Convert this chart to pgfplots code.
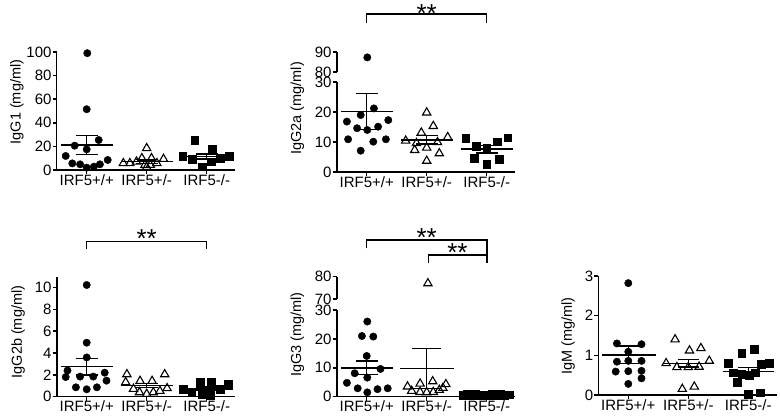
\documentclass[border=0pt]{standalone}
\usepackage{pgfplots}
\pgfplotsset{compat=1.18}
\usepackage{fontspec}
\setmainfont{Liberation Sans}

% one pt = one pixel of the reference
\pgfplotsset{
  ig/.style={
    scale only axis, clip=false,
    width=178.2pt,
    xmin=-0.5, xmax=2.47,
    axis x line*=bottom, axis y line*=left,
    axis line style={line width=1.6pt},
    every tick/.style={black, line width=1.5pt},
    major tick length=4pt,
    tick align=outside,
    xtick={0,1,2},
    xticklabels={IRF5+/+,IRF5+/-,IRF5-/-},
    tick label style={font=\fontsize{15}{18}\selectfont, inner sep=1pt},
    xticklabel style={yshift=1pt},
    ylabel style={font=\fontsize{14.5}{16}\selectfont, anchor=center},
    /pgf/number format/assume math mode=true,
    anchor=south west,
  },
  upper/.style={ig, axis x line=none, xtick=\empty},
  wt/.style={only marks, mark=*, mark size=3.7pt, black},
  het/.style={only marks, mark=triangle, mark size=4.8pt, black, mark options={line width=1.1pt}},
  ko/.style={only marks, mark=square*, mark size=3.9pt, black},
  mean/.style={black, line width=1.5pt, unbounded coords=jump},
}

\begin{document}
\begin{tikzpicture}
\useasboundingbox (0pt,0pt) rectangle (780pt,417pt);

% ---------------- IgG1
\begin{axis}[ig, at={(56.7pt,247pt)}, height=118pt, ymin=0, ymax=100, ytick={0,20,...,100},
  ylabel={IgG1 (mg/ml)}, ylabel style={at={(axis description cs:-0.223,0.576)}}]
\addplot[wt] coordinates {(0.01,99) (0,51.5) (0.2,25.4) (-0.2,20.6) (0,17.5) (-0.35,11.9)
  (-0.24,5.6) (-0.11,4.8) (0,2) (0.12,2.8) (0.22,4.8) (0.35,8.5)};
\addplot[het] coordinates {(1.0,18.4) (0.92,9.9) (1.08,9.9) (1.28,9.3) (0.61,5.7) (0.72,5.7)
  (0.83,7) (0.97,4.2) (1.06,4.2) (1.17,5.7) (1.0,2.5)};
\addplot[ko] coordinates {(1.8,25) (2.09,18) (1.6,11.5) (1.76,9) (2.22,10) (2.37,12)
  (2.08,7) (1.93,2.8)};
% mean
\addplot[mean] coordinates {(-0.43,21.2) (0.43,21.2) (nan,nan) (0.57,7.1) (1.43,7.1) (nan,nan) (1.57,11.3) (2.43,11.3)};
% SEM
\addplot[mean] coordinates {(0,13.2) (0,29.2) (nan,nan) (-0.18,29.2) (0.18,29.2) (nan,nan) (-0.18,13.2) (0.18,13.2)};
\addplot[mean] coordinates {(1,5.3) (1,8.9) (nan,nan) (0.82,8.9) (1.18,8.9) (nan,nan) (0.82,5.3) (1.18,5.3)};
\addplot[mean] coordinates {(2,9.2) (2,13.4) (nan,nan) (1.82,13.4) (2.18,13.4) (nan,nan) (1.82,9.2) (2.18,9.2)};
\end{axis}

% ---------------- IgG2a (broken axis)
\begin{axis}[ig, at={(336.7pt,245pt)}, height=90pt, ymin=0, ymax=30, ytick={0,10,20,30},
  ylabel={IgG2a (mg/ml)}, ylabel style={at={(axis description cs:-0.22,0.706)}}]
\addplot[wt] coordinates {(0.12,21.2) (-0.1,19) (-0.33,16.8) (0.36,17.3) (-0.16,14.6)
  (0.01,14) (0.19,15.1) (-0.31,10.9) (0.11,10.1) (0.32,10.9) (-0.1,7.1)};
\addplot[het] coordinates {(1,19.8) (1.11,15.3) (0.91,13.1) (0.65,10.4) (1.35,11.6) (0.83,9.6)
  (1.18,9.9) (0.8,7.3) (1,8.1) (1.21,6.2) (1,3.7)};
\addplot[ko] coordinates {(1.65,11.2) (1.83,8.7) (2,7.9) (2.18,10.1) (2.35,11.4)
  (1.79,4.6) (2,2.7) (2.21,4.3)};
\addplot[mean] coordinates {(-0.43,20.1) (0.43,20.1) (nan,nan) (0.57,10.7) (1.43,10.7) (nan,nan) (1.57,7.6) (2.43,7.6)};
\addplot[mean] coordinates {(0,14.1) (0,26.1) (nan,nan) (-0.18,26.1) (0.18,26.1) (nan,nan) (-0.18,14.1) (0.18,14.1)};
\addplot[mean] coordinates {(1,9.3) (1,12.1) (nan,nan) (0.82,12.1) (1.18,12.1) (nan,nan) (0.82,9.3) (1.18,9.3)};
\addplot[mean] coordinates {(2,6.3) (2,8.9) (nan,nan) (1.82,8.9) (2.18,8.9) (nan,nan) (1.82,6.3) (2.18,6.3)};
\end{axis}
\begin{axis}[upper, at={(336.7pt,345pt)}, height=20pt, ymin=80, ymax=90, ytick={80,90}]
\addplot[wt] coordinates {(0.01,87.3)};
\end{axis}

% ---------------- IgG2b
\begin{axis}[ig, at={(56.7pt,20.3pt)}, height=120pt, ymin=0, ymax=11, ytick={0,2,...,10},
  ylabel={IgG2b (mg/ml)}, ylabel style={at={(axis description cs:-0.217,0.539)}}]
\addplot[wt] coordinates {(0,10.24) (0,4.95) (0,3.6) (-0.32,2.4) (-0.35,1.8) (-0.11,1.84)
  (0.11,1.84) (0.3,2.2) (0.33,1.47) (-0.18,0.86) (0,0.68) (0.17,0.86)};
\addplot[het] coordinates {(0.67,2.05) (1.3,2.05) (0.65,1.32) (0.89,1.44) (1.09,1.44)
  (0.78,0.71) (0.88,0.4) (1,0.25) (1.11,0.4) (1.22,0.52) (1.34,0.77)};
\addplot[ko] coordinates {(1.61,0.71) (1.75,0.4) (1.89,1.38) (1.92,0.22) (2.08,1.32)
  (2.06,0.16) (2.22,0.71) (2.36,1.14)};
\addplot[mean] coordinates {(-0.43,2.75) (0.43,2.75) (nan,nan) (0.57,1.01) (1.43,1.01) (nan,nan) (1.57,0.72) (2.43,0.72)};
\addplot[mean] coordinates {(0,1.98) (0,3.52) (nan,nan) (-0.18,3.52) (0.18,3.52) (nan,nan) (-0.18,1.98) (0.18,1.98)};
\addplot[mean] coordinates {(1,0.83) (1,1.19) (nan,nan) (0.82,1.19) (1.18,1.19) (nan,nan) (0.82,0.83) (1.18,0.83)};
\addplot[mean] coordinates {(2,0.57) (2,0.87) (nan,nan) (1.82,0.87) (2.18,0.87) (nan,nan) (1.82,0.57) (2.18,0.57)};
\end{axis}

% ---------------- IgG3 (broken axis)
\begin{axis}[ig, at={(336.7pt,20.3pt)}, height=86.7pt, ymin=0, ymax=30, ytick={0,10,20,30},
  ylabel={IgG3 (mg/ml)}, ylabel style={at={(axis description cs:-0.22,0.717)}}]
\addplot[wt] coordinates {(0.01,26) (-0.08,21) (0.11,20.8) (0,14.1) (-0.2,8.1) (0.01,6.6)
  (0.23,9.6) (-0.33,4.8) (-0.15,2.9) (0.01,1.5) (0.18,2.6) (0.35,2.9)};
\addplot[het] coordinates {(0.68,3.5) (0.89,4.5) (1.1,5.3) (1.32,4.3) (0.75,2.0)
  (0.89,1.6) (1,1.5) (1.11,1.6) (1.21,2.3) (1.27,3.0)};
\addplot[ko] coordinates {(1.6,0.6) (1.67,0.9) (1.74,0.5) (1.81,0.8) (1.88,0.4) (1.95,0.7)
  (2.02,0.5) (2.09,0.9) (2.16,0.6) (2.23,0.8) (2.3,0.5) (2.37,0.7)};
\addplot[mean] coordinates {(-0.43,10) (0.43,10) (nan,nan) (0.56,9.8) (1.46,9.8) (nan,nan) (1.57,0.6) (2.43,0.6)};
\addplot[mean] coordinates {(0,7.6) (0,12.4) (nan,nan) (-0.18,12.4) (0.18,12.4) (nan,nan) (-0.18,7.6) (0.18,7.6)};
\addplot[mean] coordinates {(1,2.9) (1,16.7) (nan,nan) (0.76,16.7) (1.24,16.7) (nan,nan) (0.76,2.9) (1.24,2.9)};
\addplot[mean] coordinates {(2,0.52) (2,0.68) (nan,nan) (1.82,0.68) (2.18,0.68) (nan,nan) (1.82,0.52) (2.18,0.52)};
\end{axis}
\begin{axis}[upper, at={(336.7pt,118pt)}, height=22.3pt, ymin=70, ymax=80, ytick={70,80}]
\addplot[het] coordinates {(1.02,77)};
\end{axis}

% ---------------- IgM
\begin{axis}[ig, at={(598.3pt,22pt)}, height=119pt, ymin=0, ymax=3, ytick={0,1,2,3},
  ylabel={IgM (mg/ml)}, ylabel style={at={(axis description cs:-0.17,0.496)}}]
\addplot[wt] coordinates {(0,2.82) (-0.19,1.3) (0,1.09) (0.22,1.28) (-0.19,0.84) (0,0.86)
  (0.22,0.86) (-0.21,0.59) (0,0.6) (0.22,0.61) (0,0.28) (0.22,0.42)};
\addplot[het] coordinates {(0.78,1.4) (1.02,1.12) (1.21,1.18) (0.63,0.8) (0.81,0.7)
  (1,0.7) (1.18,0.71) (1.35,0.86) (0.9,0.15) (1.1,0.21)};
\addplot[ko] coordinates {(1.89,1.05) (2.1,1.16) (1.66,0.81) (2.22,0.78) (2.35,0.81)
  (1.75,0.56) (1.89,0.53) (2.01,0.5) (2.11,0.56) (1.81,0.32) (2,0.03) (2.2,0.06)};
\addplot[mean] coordinates {(-0.44,1.01) (0.46,1.01) (nan,nan) (0.57,0.8) (1.43,0.8) (nan,nan) (1.57,0.59) (2.43,0.59)};
\addplot[mean] coordinates {(0,0.79) (0,1.23) (nan,nan) (-0.18,1.23) (0.18,1.23) (nan,nan) (-0.18,0.79) (0.18,0.79)};
\addplot[mean] coordinates {(1,0.7) (1,0.9) (nan,nan) (0.82,0.9) (1.18,0.9) (nan,nan) (0.82,0.7) (1.18,0.7)};
\addplot[mean] coordinates {(2,0.49) (2,0.69) (nan,nan) (1.82,0.69) (2.18,0.69) (nan,nan) (1.82,0.49) (2.18,0.49)};
\end{axis}

% significance brackets
\begin{scope}[line width=1.5pt]
\draw (366.7pt,394.3pt) -- (366.7pt,403pt) -- (486.7pt,403pt) -- (486.7pt,394.3pt);
\draw (86.7pt,167.7pt) -- (86.7pt,175.3pt) -- (206.7pt,175.3pt) -- (206.7pt,167.7pt);
\draw (366.7pt,168.7pt) -- (366.7pt,177pt) -- (487pt,177pt) -- (487pt,153.7pt);
\draw (428.3pt,153.7pt) -- (428.3pt,162pt) -- (487pt,162pt);
\end{scope}
\node[anchor=base, inner sep=0pt] at (426.7pt,394pt) {\fontsize{26}{26}\selectfont **};
\node[anchor=base, inner sep=0pt] at (146.7pt,169pt) {\fontsize{26}{26}\selectfont **};
\node[anchor=base, inner sep=0pt] at (426.7pt,170pt) {\fontsize{26}{26}\selectfont **};
\node[anchor=base, inner sep=0pt] at (457.5pt,155pt) {\fontsize{26}{26}\selectfont **};
\end{tikzpicture}
\end{document}
